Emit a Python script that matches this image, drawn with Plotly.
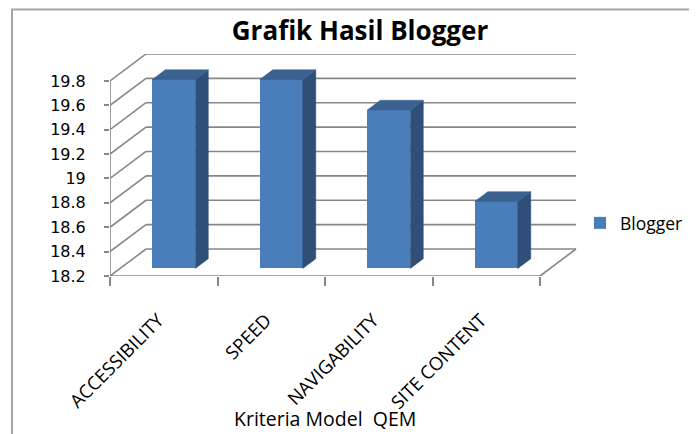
import plotly.graph_objects as go

# ---------------- data ----------------
categories = ["ACCESSIBILITY", "SPEED", "NAVIGABILITY", "SITE CONTENT"]
blogger_values = [19.75, 19.75, 19.5, 18.75]
y_ticks = [18.2, 18.4, 18.6, 18.8, 19.0, 19.2, 19.4, 19.6, 19.8]
y_ticktext = ["18.2", "18.4", "18.6", "18.8", "19", "19.2", "19.4", "19.6", "19.8"]
series_name = "Blogger"
chart_title = "Grafik Hasil Blogger"
x_title = "Kriteria Model\u00a0 QEM"

# ---------------- geometry / style ----------------
OFF = 8                                       # page body margin of the html page
W_PX, H_PX = 697 - OFF, 434 - OFF
L, R_PX, T, B_PX = 110 - OFF, 577 - OFF, 54 - OFF, 276 - OFF   # plot area in pixels
PX_PER_CAT = 107.5
PX_PER_VAL = 121.9
DX = 36 / PX_PER_CAT                          # depth offset (category units)
DY = 27 / PX_PER_VAL                          # depth offset (value units)
D0, D1 = 0.28, 0.64                           # bar depth span
HALF = 0.2                                    # half bar width
LABEL_SHIFT = 0.05                            # rotated label anchor tweak

n = len(categories)
y0 = y_ticks[0]
x_lo = -0.5
x_hi = x_lo + (R_PX - L) / PX_PER_CAT
y_hi = y0 + (B_PX - T) / PX_PER_VAL

FRONT = "#4A7EBB"
SIDE = "#2F4E78"
TOP = "#3A6190"
GRID = "#878787"
FONT = "Open Sans"

fig = go.Figure()

# front faces as a real bar trace
fig.add_trace(go.Bar(
    x=[i + D0 * DX for i in range(n)],
    y=[v - y0 for v in blogger_values],
    base=[y0 + D0 * DY] * n,
    width=HALF * 2,
    marker=dict(color=FRONT, line=dict(width=0)),
    name=series_name,
    showlegend=True,
    hoverinfo="skip",
))

# side and top faces
for i, v in enumerate(blogger_values):
    sx = [i + HALF + D0 * DX, i + HALF + D1 * DX, i + HALF + D1 * DX, i + HALF + D0 * DX, i + HALF + D0 * DX]
    sy = [y0 + D0 * DY, y0 + D1 * DY, v + D1 * DY, v + D0 * DY, y0 + D0 * DY]
    fig.add_trace(go.Scatter(x=sx, y=sy, mode="lines", fill="toself", fillcolor=SIDE,
                             line=dict(width=0.5, color=SIDE), showlegend=False, hoverinfo="skip"))
    tx = [i - HALF + D0 * DX, i + HALF + D0 * DX, i + HALF + D1 * DX, i - HALF + D1 * DX, i - HALF + D0 * DX]
    ty = [v + D0 * DY, v + D0 * DY, v + D1 * DY, v + D1 * DY, v + D0 * DY]
    fig.add_trace(go.Scatter(x=tx, y=ty, mode="lines", fill="toself", fillcolor=TOP,
                             line=dict(width=0.5, color=TOP), showlegend=False, hoverinfo="skip"))

# walls / floor structure
shapes = []
line_style = dict(color=GRID, width=1.6)
x_front_right = n - 0.5
for t in y_ticks:
    shapes.append(dict(type="line", xref="x", yref="y", layer="below",
                       x0=x_lo + DX, x1=x_front_right + DX, y0=t + DY, y1=t + DY, line=line_style))
    shapes.append(dict(type="line", xref="x", yref="y", layer="below",
                       x0=x_lo, x1=x_lo + DX, y0=t, y1=t + DY, line=line_style))
shapes.append(dict(type="line", xref="x", yref="y", layer="below",
                   x0=x_lo, x1=x_front_right, y0=y0, y1=y0, line=line_style))
shapes.append(dict(type="line", xref="x", yref="y", layer="below",
                   x0=x_front_right, x1=x_front_right + DX, y0=y0, y1=y0 + DY, line=line_style))
shapes.append(dict(type="line", xref="x", yref="y", layer="below",
                   x0=x_lo, x1=x_lo, y0=y0, y1=y_ticks[-1], line=line_style))


def px_to_paper_x(px):
    return (px - OFF - L) / (R_PX - L)


def px_to_paper_y(py):
    return (B_PX - (py - OFF)) / (B_PX - T)


# outer chart border
shapes.append(dict(type="rect", xref="paper", yref="paper", layer="below",
                   x0=px_to_paper_x(12), x1=px_to_paper_x(720),
                   y0=px_to_paper_y(460), y1=px_to_paper_y(9.5),
                   line=dict(color="#a6a6a6", width=2), fillcolor="rgba(0,0,0,0)"))

fig.update_layout(
    width=W_PX, height=H_PX,
    margin=dict(l=L, r=W_PX - R_PX, t=T, b=H_PX - B_PX, autoexpand=False),
    paper_bgcolor="white", plot_bgcolor="white",
    shapes=shapes,
    title=dict(text=f"<b>{chart_title}</b>", x=px_to_paper_x(360), xref="paper", xanchor="center",
               y=1 - (31 - OFF) / H_PX, yref="container", yanchor="middle",
               font=dict(family=FONT, size=26, color="black")),
    xaxis=dict(range=[x_lo, x_hi], tickmode="array", tickvals=[i - LABEL_SHIFT for i in range(n)],
               ticktext=categories,
               tickangle=-45, ticks="", showgrid=False, zeroline=False, showline=False,
               ticklabelstandoff=29,
               tickfont=dict(family=FONT, size=18.5, color="black"),
               minor=dict(tickmode="array", tickvals=[k - 0.5 for k in range(n + 1)], ticks="outside",
                          ticklen=9, tickwidth=1.5, tickcolor=GRID, showgrid=False),
               fixedrange=True),
    yaxis=dict(range=[y0, y_hi], tickmode="array", tickvals=y_ticks, ticktext=y_ticktext,
               ticks="outside", ticklen=5, tickwidth=1.5, tickcolor=GRID,
               showgrid=False, zeroline=False, showline=False, ticklabelstandoff=15,
               tickfont=dict(family="DejaVu Sans", size=16, color="black"), fixedrange=True),
    legend=dict(x=px_to_paper_x(580), y=px_to_paper_y(223), xanchor="left", yanchor="middle",
                font=dict(family=FONT, size=17.5, color="black"), bgcolor="rgba(0,0,0,0)",
                borderwidth=0),
    annotations=[dict(text=x_title, xref="paper", yref="paper", x=px_to_paper_x(325),
                      y=px_to_paper_y(419), xanchor="center", yanchor="middle", showarrow=False,
                      font=dict(family=FONT, size=19.5, color="black"))],
    bargap=0,
)

fig.write_html("out.html")
